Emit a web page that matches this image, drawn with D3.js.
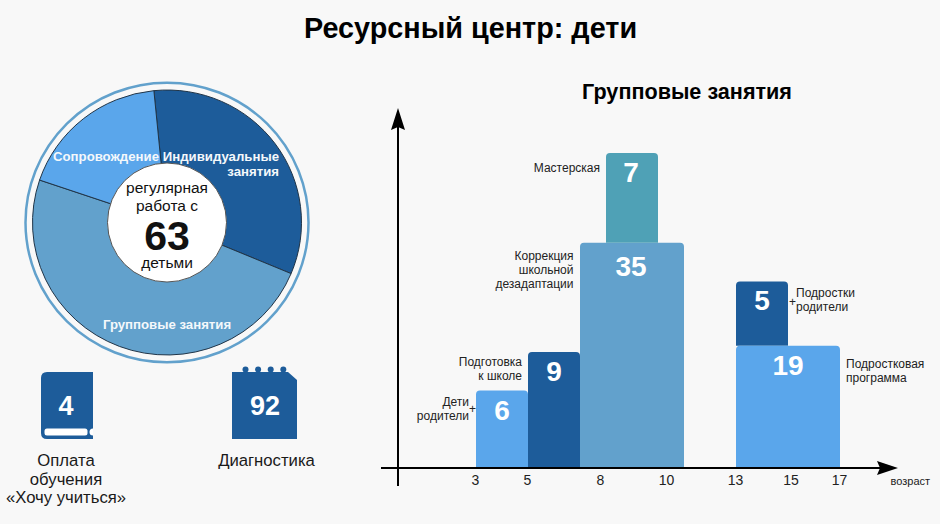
<!DOCTYPE html>
<html>
<head>
<meta charset="utf-8">
<script src="https://cdn.jsdelivr.net/npm/d3@7"></script>
<style>
	html, body { margin: 0; padding: 0; background: #f8f8f8; }
	svg { display: block; font-family: "Liberation Sans", Arial, sans-serif; }
</style>
</head>
<body>
<div id="chart"></div>
<script>
// pie: regular work with 63 children
var pieNames = ["Индивидуальные занятия", "Групповые занятия", "Сопровождение"];
var pieValues = [20.7, 30.8, 11.5];
var centerLines = ["регулярная", "работа с", "63", "детьми"];

// group classes; a bar is measured in age slots, its area is the head count
var barNames = ["Дети родители", "Подготовка к школе", "Коррекция школьной дезадаптации", "Мастерская", "Подростки родители", "Подростковая программа"];
var barValues = [6, 9, 35, 7, 5, 19];
var barStart = [0, 2, 4, 5, 10, 10];
var barSlots = [2, 2, 4, 2, 2, 4];
var barOn = [null, null, null, 2, 5, null];
var ageTicks = [3, 5, 8, 10, 13, 15, 17];

var sideValues = [4, 92];
var sideNames = [["Оплата", "обучения", "«Хочу учиться»"], ["Диагностика"]];

function init() {

	var w = 940;
	var h = 524;
	var dark = "#1d5c9a";
	var mid = "#62a1cc";
	var light = "#5aa6eb";
	var teal = "#4fa1b6";

	var svg = d3.select("#chart")
		.append("svg")
		.attr("width", w)
		.attr("height", h);

	svg.append("text")
		.attr("x", 470.5)
		.attr("y", 38)
		.attr("text-anchor", "middle")
		.attr("font-size", 28.8)
		.attr("font-weight", "bold")
		.text("Ресурсный центр: дети");

	// ---- pie ----
	var pieG = svg.append("g").attr("transform", "translate(167,222.5)");
	var pieColour = d3.scaleOrdinal().domain(pieNames).range([dark, mid, light]);

	var startAngle = -5.6 * Math.PI / 180;
	var pie = d3.pie().sort(null).startAngle(startAngle).endAngle(startAngle + 2 * Math.PI);
	var arc = d3.arc().innerRadius(0).outerRadius(134.5);

	// the source picture is very slightly squashed in height
	pieG.append("ellipse")
		.attr("rx", 141.5)
		.attr("ry", 139.8)
		.attr("fill", "none")
		.attr("stroke", mid)
		.attr("stroke-width", 2.5);

	pieG.append("g")
		.attr("transform", "scale(1,0.985)")
		.selectAll("path")
		.data(pie(pieValues))
		.join("path")
			.attr("d", arc)
			.attr("fill", (d, i) => pieColour(pieNames[i]))
			.attr("stroke", "#1f3347")
			.attr("stroke-width", 1);

	pieG.append("circle")
		.attr("r", 59.5)
		.attr("fill", "#fff")
		.attr("stroke", "#555")
		.attr("stroke-width", 1);

	var pieLabels = [
		{ lines: ["Индивидуальные", "занятия"], x: 112, y: -61.5, anchor: "end" },
		{ lines: ["Групповые занятия"], x: 0, y: 106, anchor: "middle" },
		{ lines: ["Сопровождение"], x: -61, y: -61.5, anchor: "middle" }
	];
	pieLabels.forEach(function(l) {
		l.lines.forEach(function(t, i) {
			pieG.append("text")
				.attr("x", l.x)
				.attr("y", l.y + i * 15)
				.attr("text-anchor", l.anchor)
				.attr("font-size", 13.2)
				.attr("font-weight", "bold")
				.attr("fill", "#f4f8fb")
				.text(t);
		});
	});

	var centerY = [-29.5, -11.5, 27, 45.5];
	centerLines.forEach(function(t, i) {
		pieG.append("text")
			.attr("y", centerY[i])
			.attr("text-anchor", "middle")
			.attr("font-size", i == 2 ? 41 : 15.5)
			.attr("font-weight", i == 2 ? "bold" : "normal")
			.attr("fill", "#111")
			.text(t);
	});

	// ---- icons ----
	var book = svg.append("g");
	book.append("path")
		.attr("d", "M93,372H47Q41,372 41,378V433Q41,439 47,439H93Z")
		.attr("fill", dark);
	book.append("rect")
		.attr("x", 44.5)
		.attr("y", 428.5)
		.attr("width", 43)
		.attr("height", 7)
		.attr("rx", 2.5)
		.attr("fill", "#fff");
	book.append("path")
		.attr("d", "M93,428.5a3.5,3.5 0 0 0 0,7Z")
		.attr("fill", "#fff");

	var cal = svg.append("g");
	cal.append("path")
		.attr("d", "M232,372H288L297,380V439H232Z")
		.attr("fill", dark);
	cal.selectAll("circle")
		.data(d3.range(4))
		.join("circle")
			.attr("cx", d => 245.5 + d * 12.6)
			.attr("cy", 369.5)
			.attr("r", 3)
			.attr("fill", dark);

	var sideX = d3.scalePoint().domain(sideValues).range([66, 266]);

	svg.append("g").selectAll("text")
		.data(sideValues)
		.join("text")
			.attr("x", d => sideX(d) - (d == 92 ? 1 : 0))
			.attr("y", 415)
			.attr("text-anchor", "middle")
			.attr("font-size", 27)
			.attr("font-weight", "bold")
			.attr("fill", "#fff")
			.text(d => d);

	sideValues.forEach(function(v, k) {
		sideNames[k].forEach(function(t, i) {
			svg.append("text")
				.attr("x", sideX(v) + (k ? 0.5 : 0))
				.attr("y", 466 + i * 18.7)
				.attr("text-anchor", "middle")
				.attr("font-size", 16.7)
				.attr("fill", "#1a1a1a")
				.text(t);
		});
	});

	// ---- bars ----
	svg.append("text")
		.attr("x", 687)
		.attr("y", 99)
		.attr("text-anchor", "middle")
		.attr("font-size", 21.6)
		.attr("font-weight", "bold")
		.text("Групповые занятия");

	var xSlot = d3.scaleLinear().domain([0, 14]).range([476, 840]);
	var y = d3.scaleLinear().domain([0, 10]).range([467.7, 210.7]);
	// age ticks sit unevenly under the bars, so this scale is piecewise
	var xAge = d3.scaleLinear().domain(ageTicks).range([475, 527, 600, 666, 735, 790.5, 839]);

	function level(i) {
		var below = barOn[i] === null ? 0 : level(barOn[i]);
		return below + barValues[i] / barSlots[i];
	}

	function barPath(i) {
		var r = 4;
		var x0 = xSlot(barStart[i]);
		var x1 = xSlot(barStart[i] + barSlots[i]);
		var top = y(level(i));
		var bottom = y(barOn[i] === null ? 0 : level(barOn[i]));
		return "M" + x0 + "," + bottom + "V" + (top + r) + "Q" + x0 + "," + top + " " + (x0 + r) + "," + top +
			"H" + (x1 - r) + "Q" + x1 + "," + top + " " + x1 + "," + (top + r) + "V" + bottom + "Z";
	}

	var barColour = d3.scaleOrdinal().domain(barNames).range([light, dark, mid, teal, dark, light]);

	svg.append("g").selectAll("path")
		.data(d3.range(barValues.length))
		.join("path")
			.attr("d", barPath)
			.attr("fill", i => barColour(barNames[i]));

	svg.append("g").selectAll("text")
		.data(d3.range(barValues.length))
		.join("text")
			.attr("x", i => xSlot(barStart[i] + barSlots[i] / 2) - (i == 3 || i == 2 ? 1 : 0))
			.attr("y", i => y(level(i)) + (i == 2 ? 33 : 29))
			.attr("text-anchor", "middle")
			.attr("font-size", 28)
			.attr("font-weight", "bold")
			.attr("fill", "#fff")
			.text(i => barValues[i]);

	// name labels, placed relative to the top corner of their bar
	var nameLines = [["Дети", "родители"], ["Подготовка", "к школе"], ["Коррекция", "школьной", "дезадаптации"], ["Мастерская"], ["Подростки", "родители"], ["Подростковая", "программа"]];
	var nameDx = [-7, -6, -6.5, -6, 8, 6];
	var nameDy = [15, 14, 17, 19, 16, 22];

	nameLines.forEach(function(lines, i) {
		var leftSide = nameDx[i] < 0;
		var edge = leftSide ? xSlot(barStart[i]) : xSlot(barStart[i] + barSlots[i]);
		lines.forEach(function(t, k) {
			svg.append("text")
				.attr("x", edge + nameDx[i])
				.attr("y", y(level(i)) + nameDy[i] + k * 14)
				.attr("text-anchor", leftSide ? "end" : "start")
				.attr("font-size", 12)
				.attr("fill", "#222")
				.text(t);
		});
	});

	[[472.5, 413], [792.5, 306]].forEach(function(p) {
		svg.append("text")
			.attr("x", p[0])
			.attr("y", p[1])
			.attr("text-anchor", "middle")
			.attr("font-size", 12)
			.attr("fill", "#222")
			.text("+");
	});

	// ---- axes ----
	svg.append("line")
		.attr("x1", 398).attr("x2", 398)
		.attr("y1", 125).attr("y2", 486)
		.attr("stroke", "#000").attr("stroke-width", 2);
	svg.append("path")
		.attr("d", "M398,108L405,130L398,127L391,130Z")
		.attr("fill", "#000");

	svg.append("line")
		.attr("x1", 381).attr("x2", 885)
		.attr("y1", 468).attr("y2", 468)
		.attr("stroke", "#000").attr("stroke-width", 2);
	svg.append("path")
		.attr("d", "M898,468L877,461L880,468L877,475Z")
		.attr("fill", "#000");

	svg.append("g")
		.attr("transform", "translate(0,468)")
		.call(d3.axisBottom(xAge).tickValues(ageTicks).tickSize(0).tickPadding(7).tickFormat(d3.format("d")))
		.call(g => g.select(".domain").remove())
		.call(g => g.selectAll("text")
			.attr("font-family", "\"Liberation Sans\", Arial, sans-serif")
			.attr("font-size", 14)
			.attr("fill", "#222"));

	svg.append("text")
		.attr("x", 890.5)
		.attr("y", 485)
		.attr("font-size", 11)
		.attr("fill", "#222")
		.text("возраст");
}

window.onload = init;
</script>
</body>
</html>
